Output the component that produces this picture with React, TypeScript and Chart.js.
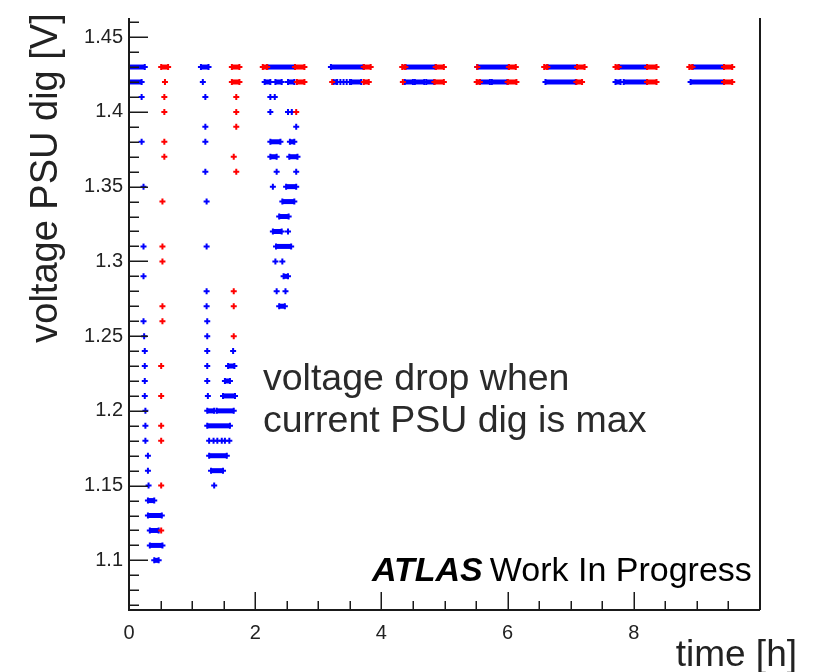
import React, { useEffect, useRef } from 'react';
import { Chart, registerables } from 'chart.js';

Chart.register(...registerables);

const BLUE = '#0000ff';
const RED = '#ff0000';

// single markers: [time (h), voltage (V)]
const bluePoints: [number, number][] = [
  [0.20, 1.41], [0.20, 1.38], [0.23, 1.35], [0.23, 1.31], [0.23, 1.29], [0.23, 1.26], [0.24, 1.25],
  [0.25, 1.24], [0.25, 1.23], [0.25, 1.22], [0.25, 1.21], [0.26, 1.20], [0.26, 1.19], [0.26, 1.18],
  [0.30, 1.17], [0.30, 1.16], [0.31, 1.15],
  [1.17, 1.42], [1.21, 1.41], [1.21, 1.39], [1.21, 1.38], [1.21, 1.36], [1.23, 1.34], [1.23, 1.31],
  [1.23, 1.28], [1.23, 1.27], [1.24, 1.26], [1.24, 1.25], [1.24, 1.24], [1.24, 1.23], [1.24, 1.22],
  [1.25, 1.21], [1.65, 1.24],
  [1.27, 1.18], [1.34, 1.18], [1.40, 1.18], [1.47, 1.18], [1.52, 1.18], [1.59, 1.18], [1.35, 1.15],
  [2.24, 1.41], [2.31, 1.41], [2.24, 1.40], [2.52, 1.40], [2.58, 1.40], [2.65, 1.39], [2.34, 1.36],
  [2.65, 1.36], [2.28, 1.35], [2.52, 1.32], [2.32, 1.30], [2.43, 1.30], [2.34, 1.28], [2.48, 1.28],
  [3.30, 1.42], [3.35, 1.42], [3.40, 1.42], [3.45, 1.42], [3.50, 1.42],
];

// dense runs of markers: [start time, end time, voltage]
const blueRuns: [number, number, number][] = [
  [0.0, 0.25, 1.43], [0.0, 0.20, 1.42], [0.30, 0.40, 1.14], [0.30, 0.52, 1.13], [0.33, 0.47, 1.12],
  [0.33, 0.53, 1.11], [0.40, 0.47, 1.10],
  [1.14, 1.26, 1.43], [1.57, 1.67, 1.23], [1.52, 1.60, 1.22], [1.49, 1.68, 1.21], [1.24, 1.35, 1.20],
  [1.39, 1.66, 1.20], [1.24, 1.60, 1.19], [1.27, 1.55, 1.17], [1.30, 1.49, 1.16],
  [2.19, 2.63, 1.43], [2.15, 2.24, 1.42], [2.32, 2.42, 1.42], [2.52, 2.62, 1.42], [2.24, 2.40, 1.38],
  [2.55, 2.62, 1.38], [2.24, 2.34, 1.37], [2.54, 2.67, 1.37], [2.49, 2.65, 1.35], [2.43, 2.62, 1.34],
  [2.38, 2.53, 1.33], [2.28, 2.42, 1.32], [2.33, 2.57, 1.31], [2.45, 2.52, 1.29], [2.38, 2.47, 1.27],
  [3.20, 3.72, 1.43], [3.24, 3.29, 1.42], [3.52, 3.68, 1.42],
  [4.38, 4.86, 1.43], [4.37, 4.50, 1.42], [4.53, 4.68, 1.42], [4.71, 4.84, 1.42],
  [5.52, 6.02, 1.43], [5.56, 5.72, 1.42], [5.75, 6.00, 1.42],
  [6.63, 7.10, 1.43], [6.60, 7.08, 1.42],
  [7.76, 8.21, 1.43], [7.71, 7.79, 1.42], [7.84, 8.21, 1.42],
  [8.93, 9.43, 1.43], [8.90, 9.43, 1.42],
];

const redPoints: [number, number][] = [
  [0.57, 1.42], [0.56, 1.41], [0.56, 1.40], [0.56, 1.38], [0.56, 1.37], [0.53, 1.34], [0.53, 1.31],
  [0.53, 1.30], [0.53, 1.27], [0.53, 1.26], [0.51, 1.23], [0.51, 1.21], [0.51, 1.19], [0.51, 1.18],
  [0.51, 1.15], [0.51, 1.12],
  [1.70, 1.41], [1.70, 1.40], [1.70, 1.39], [1.66, 1.37], [1.70, 1.36], [1.66, 1.28], [1.66, 1.27],
  [1.66, 1.25],
  [2.65, 1.40], [3.22, 1.42], [4.34, 1.42], [5.52, 1.43],
];

const redRuns: [number, number, number][] = [
  [0.51, 0.62, 1.43], [1.63, 1.75, 1.43], [1.63, 1.75, 1.42], [2.12, 2.19, 1.43], [2.63, 2.78, 1.43],
  [2.66, 2.78, 1.42],
  [3.72, 3.83, 1.43], [3.72, 3.80, 1.42],
  [4.33, 4.38, 1.43], [4.86, 4.99, 1.43], [4.84, 4.99, 1.42],
  [6.02, 6.13, 1.43], [5.51, 5.56, 1.42], [6.00, 6.14, 1.42],
  [6.58, 6.63, 1.43], [7.10, 7.22, 1.43], [7.09, 7.18, 1.42],
  [7.71, 7.76, 1.43], [8.21, 8.36, 1.43], [8.21, 8.36, 1.42],
  [8.88, 8.93, 1.43], [9.43, 9.56, 1.43], [9.43, 9.56, 1.42],
];

const xTickValues = [0, 2, 4, 6, 8];
const xTickLabels = ['0', '2', '4', '6', '8'];
const yTickValues = [1.1, 1.15, 1.2, 1.25, 1.3, 1.35, 1.4, 1.45];
const yTickLabels = ['1.1', '1.15', '1.2', '1.25', '1.3', '1.35', '1.4', '1.45'];

const X_MIN = 0;
const X_MAX = 10;
const Y_MIN = 1.0668;
const Y_MAX = 1.4628;

const FONT = '"Liberation Sans", Arial, sans-serif';
const TICK_FONT = { family: 'Liberation Sans, Arial, sans-serif', size: 20 };

function markerStyle(color: string) {
  return {
    pointStyle: 'cross' as const,
    pointRadius: 3,
    pointBorderWidth: 2,
    pointBorderColor: color,
    pointBackgroundColor: color,
    pointHoverRadius: 3,
  };
}

function runDataset(run: [number, number, number], color: string, order: number) {
  return {
    data: [{ x: run[0], y: run[2] }, { x: run[1], y: run[2] }],
    showLine: true,
    borderColor: color,
    borderWidth: 5,
    fill: false,
    order,
    ...markerStyle(color),
  };
}

const framePlugin = {
  id: 'rootFrame',
  afterDatasetsDraw(chart: any) {
    const { ctx, chartArea: a, scales } = chart;
    const xs = scales.x;
    const ys = scales.y;
    ctx.save();
    ctx.strokeStyle = '#1a1a1a';
    ctx.lineWidth = 2;
    ctx.beginPath();
    ctx.moveTo(a.left, a.top);
    ctx.lineTo(a.left, a.bottom);
    ctx.lineTo(a.right, a.bottom);
    ctx.moveTo(a.right, a.bottom);
    ctx.lineTo(a.right, a.top);
    ctx.stroke();
    ctx.lineWidth = 1.5;
    ctx.beginPath();
    for (let i = 107; i <= 146; i++) {
      const p = Math.round(ys.getPixelForValue(i / 100)) + 0.25;
      const len = i % 5 === 0 ? 19 : 10;
      ctx.moveTo(a.left, p);
      ctx.lineTo(a.left + len, p);
    }
    for (let i = 1; i < 20; i++) {
      const p = Math.round(xs.getPixelForValue(i / 2)) + 0.25;
      const len = i % 4 === 0 ? 18 : 9;
      ctx.moveTo(p, a.bottom);
      ctx.lineTo(p, a.bottom - len);
    }
    ctx.stroke();
    ctx.restore();
  },
};

const textPlugin = {
  id: 'annotTexts',
  afterDraw(chart: any) {
    const { ctx } = chart;
    ctx.save();
    ctx.fillStyle = '#222';
    ctx.textBaseline = 'alphabetic';
    // y-axis title
    ctx.save();
    ctx.translate(57, 178);
    ctx.rotate(-Math.PI / 2);
    ctx.textAlign = 'center';
    ctx.font = `38px ${FONT}`;
    ctx.fillText('voltage PSU dig [V]', 0, 0);
    ctx.restore();
    // x-axis title
    ctx.textAlign = 'right';
    ctx.font = `37px ${FONT}`;
    ctx.fillText('time [h]', 797, 666);
    // annotation
    ctx.textAlign = 'left';
    ctx.fillStyle = '#2a2a2a';
    ctx.font = `37.5px ${FONT}`;
    ctx.fillText('voltage drop when', 263, 390);
    ctx.fillText('current PSU dig is max', 263, 432);
    // ATLAS label
    ctx.fillStyle = '#000';
    ctx.font = `italic bold 34px ${FONT}`;
    ctx.fillText('ATLAS', 372, 581);
    const w = ctx.measureText('ATLAS').width;
    ctx.font = `34px ${FONT}`;
    ctx.fillText('Work In Progress', 372 + w + 7, 581);
    ctx.restore();
  },
};

export default function App() {
  const canvasRef = useRef<HTMLCanvasElement | null>(null);

  useEffect(() => {
    const canvas = canvasRef.current;
    if (!canvas) return;
    const datasets: any[] = [];
    datasets.push({
      data: redPoints.map(([x, y]) => ({ x, y })),
      showLine: false,
      order: 0,
      ...markerStyle(RED),
    });
    redRuns.forEach((r) => datasets.push(runDataset(r, RED, 1)));
    datasets.push({
      data: bluePoints.map(([x, y]) => ({ x, y })),
      showLine: false,
      order: 2,
      ...markerStyle(BLUE),
    });
    blueRuns.forEach((r) => datasets.push(runDataset(r, BLUE, 3)));

    const chart = new Chart(canvas, {
      type: 'scatter',
      data: { datasets },
      options: {
        animation: false,
        responsive: false,
        devicePixelRatio: 1,
        layout: { padding: { left: 0, right: 66, top: 14, bottom: 0 } },
        plugins: { legend: { display: false }, tooltip: { enabled: false } },
        scales: {
          x: {
            type: 'linear',
            min: X_MIN,
            max: X_MAX,
            grid: { display: false, drawTicks: false },
            border: { display: false },
            afterBuildTicks: (axis: any) => {
              axis.ticks = xTickValues.map((value) => ({ value }));
            },
            afterFit: (axis: any) => {
              axis.height = 62;
            },
            ticks: {
              font: TICK_FONT,
              color: '#222',
              padding: 11,
              maxRotation: 0,
              autoSkip: false,
              callback: (v: any) => {
                const i = xTickValues.findIndex((t) => Math.abs(t - Number(v)) < 1e-6);
                return i >= 0 ? xTickLabels[i] : '';
              },
            },
          },
          y: {
            type: 'linear',
            min: Y_MIN,
            max: Y_MAX,
            grid: { display: false, drawTicks: false },
            border: { display: false },
            afterBuildTicks: (axis: any) => {
              axis.ticks = yTickValues.map((value) => ({ value }));
            },
            afterFit: (axis: any) => {
              axis.width = 129;
            },
            ticks: {
              font: TICK_FONT,
              color: '#222',
              padding: 6,
              autoSkip: false,
              callback: (v: any) => {
                const i = yTickValues.findIndex((t) => Math.abs(t - Number(v)) < 1e-6);
                return i >= 0 ? yTickLabels[i] : '';
              },
            },
          },
        },
      },
      plugins: [framePlugin, textPlugin],
    });
    return () => chart.destroy();
  }, []);

  return (
    <div style={{ position: 'absolute', left: 0, top: 0, width: 826, height: 672, background: '#fff' }}>
      <canvas ref={canvasRef} width={826} height={672} style={{ display: 'block' }} />
    </div>
  );
}
